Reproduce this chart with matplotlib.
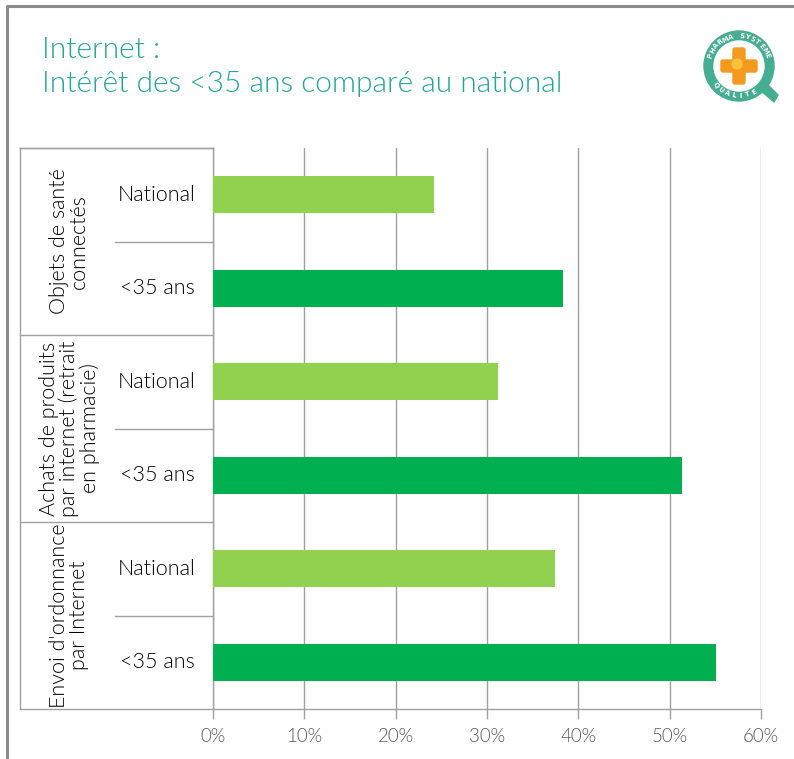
import numpy as np
import matplotlib.pyplot as plt
from matplotlib import patches, transforms
from matplotlib import font_manager as fm

# Survey data: share of respondents interested in each internet service
GROUPS = ["Objets de santé\nconnectés",
          "Achats de produits\npar internet (retrait\nen pharmacie)",
          "Envoi d'ordonnance\npar Internet"]
ROW_LABELS = ["National", "<35 ans"]
NATIONAL = [24.2, 31.2, 37.4]
UNDER_35 = [38.3, 51.4, 55.1]
X_TICKS = [0, 10, 20, 30, 40, 50, 60]

C_NATIONAL = "#92D050"
C_YOUNG = "#00B050"
C_TITLE = "#23A596"
C_GRID = "#A0A0A0"
C_TEAL = "#45AD92"
C_TEXT = "#000000"

W, H = 794, 759
plt.rcParams['font.family'] = ['Lato', 'DejaVu Sans']


def light_font():
    # pick a proper "Light" (300) face if one is installed
    for name in ['Lato', 'Roboto', 'Open Sans', 'Noto Sans']:
        for f in fm.fontManager.ttflist:
            if f.name == name and f.weight == 300 and f.style == 'normal':
                return fm.FontProperties(fname=f.fname)
    return fm.FontProperties(family='Lato')


LIGHT = light_font()


def lf(size):
    p = LIGHT.copy()
    p.set_size(size)
    return p


fig = plt.figure(figsize=(W / 100, H / 100), dpi=100)


def px_rect(x0, y0, x1, y1):
    return [x0 / W, 1 - y1 / H, (x1 - x0) / W, (y1 - y0) / H]


# outer frame
frame = fig.add_axes([0, 0, 1, 1], zorder=-5)
frame.set_xlim(0, W)
frame.set_ylim(H, 0)
frame.axis('off')
frame.plot([7, 7, W + 5], [H + 5, 6, 6], color="#8C8C8C", lw=2.2, solid_capstyle='butt')

# title
fig.text(42 / W, 1 - 50 / H, "Internet :", color=C_TITLE, fontproperties=lf(21.5),
         va='center', ha='left')
fig.text(42 / W, 1 - 84 / H, "Intérêt des <35 ans comparé au national", color=C_TITLE,
         fontproperties=lf(21.5), va='center', ha='left')

# main chart
ax = fig.add_axes(px_rect(213, 148, 761, 709))
n_rows = len(GROUPS) * 2
values, colors, labels = [], [], []
for nat, young in zip(NATIONAL, UNDER_35):
    values += [nat, young]
    colors += [C_NATIONAL, C_YOUNG]
    labels += ROW_LABELS
y = np.arange(n_rows)
ax.barh(y, values, height=0.4, color=colors, zorder=3)
ax.set_ylim(n_rows - 0.5, -0.5)
ax.set_xlim(0, 60)
ax.set_xticks(X_TICKS)
ax.set_xticklabels([f"{t}%" for t in X_TICKS], color="#595959", fontproperties=lf(13.5))
ax.tick_params(axis='x', length=7, width=1, color=C_GRID, pad=7)
ax.set_yticks([])
ax.grid(axis='x', color=C_GRID, lw=1, zorder=0)
for side in ['top', 'right']:
    ax.spines[side].set_visible(False)
for side in ['left', 'bottom']:
    ax.spines[side].set_color(C_GRID)
    ax.spines[side].set_linewidth(1)

# category table on the left
tr = transforms.blended_transform_factory(ax.transAxes, ax.transData)
x_outer = (20 - 213) / 548
x_inner = (115 - 213) / 548
line_kw = dict(color=C_GRID, lw=1, transform=tr, clip_on=False)
ax.plot([x_outer, 0], [-0.5, -0.5], **line_kw)
ax.plot([x_outer, x_outer], [-0.5, n_rows - 0.5], **line_kw)
for g in range(len(GROUPS) + 1):
    yb = g * 2 - 0.5
    ax.plot([x_outer, 0], [yb, yb], **line_kw)
    if g < len(GROUPS):
        ax.plot([x_inner, 0], [yb + 1, yb + 1], **line_kw)
        ax.text((x_outer + x_inner) / 2 + 0.003, g * 2 + 0.5, GROUPS[g], rotation=90,
                ha='center', va='center', fontproperties=lf(15.5), color=C_TEXT,
                linespacing=1.0, transform=tr)
for yi, lab in zip(y, labels):
    ax.text(-0.102, yi, lab, ha='center', va='center', fontproperties=lf(15.5),
            color=C_TEXT, transform=tr)

# logo
lg = fig.add_axes(px_rect(698, 26, 780, 106))
lg.set_xlim(-41, 41)
lg.set_ylim(-40, 40)
lg.set_aspect('equal')
lg.axis('off')
lg.add_patch(patches.Circle((0, 0), 35, color=C_TEAL))
lg.add_patch(patches.Circle((0, 0), 25, color="white"))
lg.add_patch(patches.Polygon([[20, -23], [35, -36], [39, -29], [28, -18]], color=C_TEAL))
lg.add_patch(patches.FancyBboxPatch((-6, -18), 12, 36, boxstyle="round,pad=0,rounding_size=2",
                                    color="#F39A1E"))
lg.add_patch(patches.FancyBboxPatch((-18, -6), 36, 12, boxstyle="round,pad=0,rounding_size=2",
                                    color="#F39A1E"))
lg.add_patch(patches.Circle((-2, 2), 5, color="#F8C23A"))
r_txt = 30
top_txt = "PHARMA SYSTEME"
for i, ch in enumerate(top_txt):
    a = np.deg2rad(160 - i * 140 / (len(top_txt) - 1))
    lg.text(r_txt * np.cos(a), r_txt * np.sin(a), ch, rotation=np.rad2deg(a) - 90,
            ha='center', va='center', fontsize=4.8, color="white", fontweight='bold',
            family='DejaVu Sans')
bot_txt = "QUALITE"
for i, ch in enumerate(bot_txt):
    a = np.deg2rad(220 + i * 80 / (len(bot_txt) - 1))
    lg.text(r_txt * np.cos(a), r_txt * np.sin(a), ch, rotation=np.rad2deg(a) + 90,
            ha='center', va='center', fontsize=4.8, color="white", fontweight='bold',
            family='DejaVu Sans')

fig.savefig("out.png", dpi=100)
